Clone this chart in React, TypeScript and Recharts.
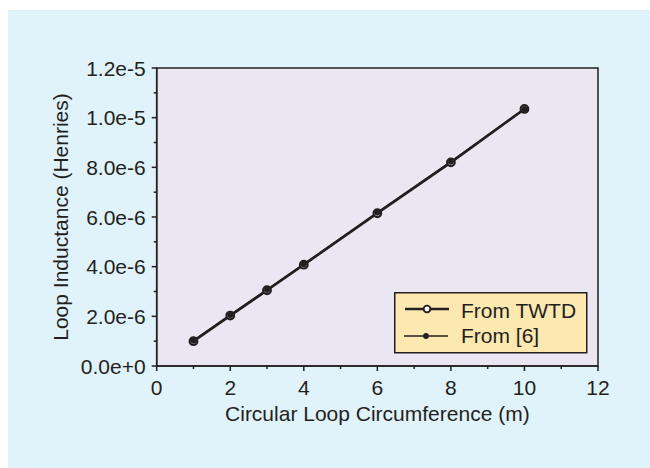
import React from 'react';
import { LineChart, Line, XAxis, YAxis, CartesianGrid, ReferenceArea, Label } from 'recharts';

const circumference = [1, 2, 3, 4, 6, 8, 10];
const fromTwtd = [1.0e-6, 2.03e-6, 3.05e-6, 4.08e-6, 6.15e-6, 8.2e-6, 1.035e-5];
const fromRef6 = [1.02e-6, 2.05e-6, 3.07e-6, 4.1e-6, 6.18e-6, 8.23e-6, 1.034e-5];

const xTicks = [0, 1, 2, 3, 4, 5, 6, 7, 8, 9, 10, 11, 12];
const yTicks = [0, 1e-6, 2e-6, 3e-6, 4e-6, 5e-6, 6e-6, 7e-6, 8e-6, 9e-6, 1e-5, 1.1e-5, 1.2e-5];

const seriesNames = ['From TWTD', 'From [6]'];

const data = circumference.map((x, i) => ({ x, twtd: fromTwtd[i], ref6: fromRef6[i] }));

const FONT = '"Liberation Sans", Arial, Helvetica, sans-serif';
const INK = '#231f20';
const FS = 21;

function XTick({ x, y, payload }: any) {
  const major = payload.value % 2 === 0;
  return (
    <g>
      <line x1={x} x2={x} y1={y} y2={y + (major ? 5 : 3)} stroke={INK} strokeWidth={1.5} />
      {major && (
        <text x={x} y={y + 29} textAnchor="middle" fontSize={FS} fill={INK} fontFamily={FONT}>
          {payload.value}
        </text>
      )}
    </g>
  );
}

function YTick({ x, y, payload }: any) {
  const step = Math.round(payload.value / 1e-6);
  const major = step % 2 === 0;
  return (
    <g>
      <line x1={x} x2={x - (major ? 5 : 3)} y1={y} y2={y} stroke={INK} strokeWidth={1.5} />
      {major && (
        <text x={x - 11} y={y + 7.5} textAnchor="end" fontSize={FS} fill={INK} fontFamily={FONT}>
          {payload.value.toExponential(1)}
        </text>
      )}
    </g>
  );
}

// legend box, same look as the figure (open ring vs small filled dot)
function LegendBox() {
  return (
    <svg
      width={194}
      height={62}
      style={{ position: 'absolute', left: 385.5, top: 281.5, overflow: 'visible' }}
    >
      <rect x={0.75} y={0.75} width={192} height={60} fill="#fde8b0" stroke={INK} strokeWidth={1.5} />
      <line x1={11} x2={55} y1={17} y2={17} stroke={INK} strokeWidth={2.4} />
      <circle cx={33} cy={17} r={3.4} fill="#fafafa" stroke={INK} strokeWidth={1.9} />
      <line x1={10} x2={54} y1={44} y2={44} stroke={INK} strokeWidth={1.4} />
      <circle cx={32} cy={44} r={2.9} fill={INK} />
      <text x={67} y={25.5} fontSize={FS} fill={INK} fontFamily={FONT}>{seriesNames[0]}</text>
      <text x={67} y={51} fontSize={FS} fill={INK} fontFamily={FONT}>{seriesNames[1]}</text>
    </svg>
  );
}

export default function App() {
  return (
    <div
      style={{
        position: 'fixed',
        left: 8,
        top: 10,
        width: 642,
        height: 458,
        background: '#e0f2fa',
      }}
    >
      <LineChart
        width={642}
        height={458}
        data={data}
        margin={{ top: 58, right: 52, left: 48.7, bottom: 42 }}
      >
        <CartesianGrid horizontal={false} vertical={false} fill="#ebe7f2" />
        <XAxis
          type="number"
          dataKey="x"
          domain={[0, 12]}
          ticks={xTicks}
          interval={0}
          height={60}
          tickSize={0}
          tickMargin={0}
          tick={<XTick />}
          tickLine={false}
          axisLine={{ stroke: INK, strokeWidth: 1.5 }}
        >
          <Label
            value="Circular Loop Circumference (m)"
            position="center"
            dy={17.5}
            style={{ fontSize: FS, fill: INK, fontFamily: FONT }}
          />
        </XAxis>
        <YAxis
          type="number"
          domain={[0, 1.2e-5]}
          ticks={yTicks}
          interval={0}
          width={100}
          tickSize={0}
          tickMargin={0}
          tick={<YTick />}
          tickLine={false}
          axisLine={{ stroke: INK, strokeWidth: 1.5 }}
        >
          <Label
            value="Loop Inductance (Henries)"
            position="center"
            angle={-90}
            dx={-46.2}
            style={{ fontSize: FS, fill: INK, fontFamily: FONT, textAnchor: 'middle' }}
          />
        </YAxis>
        <ReferenceArea x1={0} x2={12} y1={0} y2={1.2e-5} fill="none" fillOpacity={0} stroke={INK} strokeWidth={1.5} />
        <Line
          type="linear"
          dataKey="twtd"
          name={seriesNames[0]}
          stroke={INK}
          strokeWidth={2.6}
          dot={{ r: 3.8, fill: '#f2f0f4', stroke: INK, strokeWidth: 2.2 }}
          isAnimationActive={false}
        />
        <Line
          type="linear"
          dataKey="ref6"
          name={seriesNames[1]}
          stroke={INK}
          strokeWidth={1.8}
          dot={{ r: 2.6, fill: INK, stroke: INK, strokeWidth: 1 }}
          isAnimationActive={false}
        />
      </LineChart>
      <LegendBox />
    </div>
  );
}
